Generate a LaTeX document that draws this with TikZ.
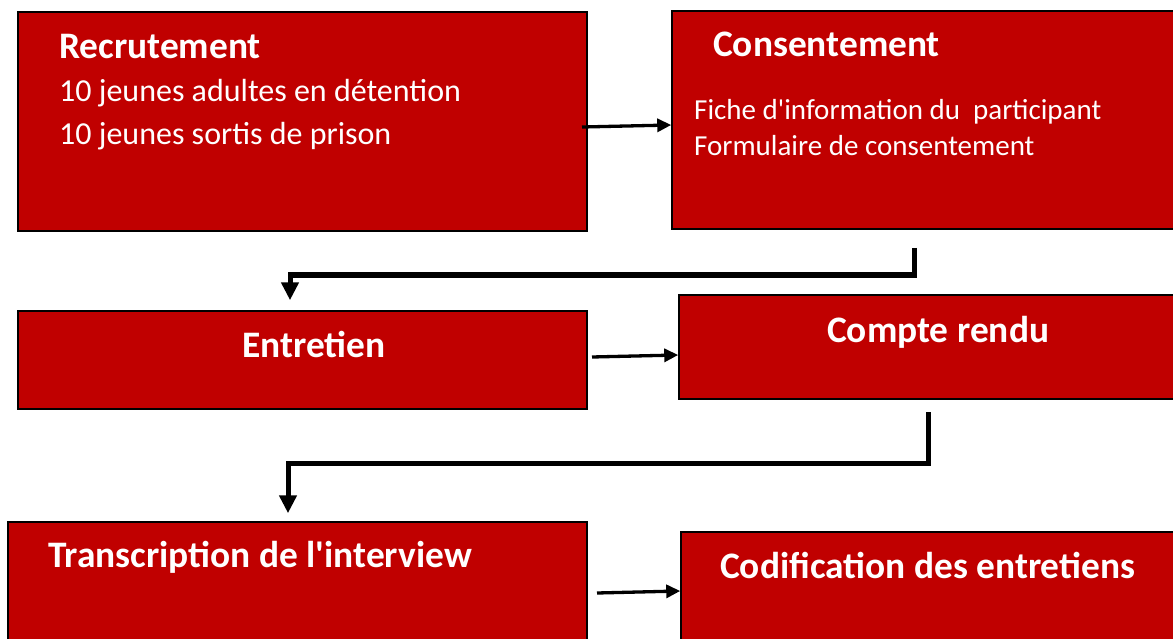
\documentclass[tikz,border=0pt]{standalone}
\usepackage{fontspec}
\setmainfont{Carlito}
\usetikzlibrary{arrows.meta}
\definecolor{boxred}{HTML}{C00000}
\tikzset{
  box/.style={draw=black, line width=1.5pt, fill=boxred, rectangle, inner sep=0pt},
  title/.style={anchor=base west, inner sep=0pt, text=white, font=\bfseries\fontsize{37.4}{41}\selectfont},
  body/.style={anchor=base west, inner sep=0pt, text=white, font=\fontsize{32}{40}\selectfont},
  small/.style={anchor=base west, inner sep=0pt, text=white, font=\fontsize{29}{36}\selectfont},
  arr/.style={draw=black, line width=3.3pt, -{Triangle[length=14pt,width=13pt]}},
  elbow/.style={draw=black, line width=5pt, -{Triangle[length=18pt,width=17pt]}}
}
\begin{document}
\begin{tikzpicture}[x=1pt,y=-1pt]
\clip (0,0) rectangle (1173,639);
\fill[white] (0,0) rectangle (1173,639);
% boxes
\node[box, minimum width=569pt, minimum height=219pt] (b1) at (302.5,121.5) {};
\node[box, minimum width=506pt, minimum height=218pt] (b2) at (925,120) {};
\node[box, minimum width=569pt, minimum height=98pt] (b3) at (302.5,360) {};
\node[box, minimum width=501pt, minimum height=104pt] (b4) at (929.5,347) {};
\node[box, minimum width=579pt, minimum height=123pt] (b5) at (297.5,583.5) {};
\node[box, minimum width=499pt, minimum height=113pt] (b6) at (930.5,588.5) {};
% texts
\node[title] (t1) at (59,59) {Recrutement};
\node[body] (t1a) at (59,102) {10 jeunes adultes en détention};
\node[body] (t1b) at (59,145) {10 jeunes sortis de prison};
\node[title] (t2) at (713,57) {Consentement};
\node[small] (t2a) at (694,120) {Fiche d\textquotesingle information du~ participant};
\node[small] (t2b) at (694,156) {Formulaire de consentement};
\node[title] (t3) at (242,357) {Entretien};
\node[title] (t4) at (827,342) {Compte rendu};
\node[title] (t5) at (48,567) {Transcription de l\textquotesingle interview};
\node[title] (t6) at (720,578) {Codification des entretiens};
% connector start points
\coordinate (s1) at (582,127);
\coordinate (s3) at (592,357);
\coordinate (s5) at (597,593);
\coordinate (c2) at (914,248);
\coordinate (c2b) at (914,275);
\coordinate (c4) at (928,412);
\coordinate (c4b) at (928,463);
% connectors
\draw[arr] (s1) -- ([yshift=-5pt]b2.west);
\draw[arr] (s3) -- ([yshift=-8pt]b4.west);
\draw[arr] (s5) -- ([yshift=-2.5pt]b6.west);
\draw[elbow, shorten >=10pt] (c2) -- (c2b) -| ([xshift=-12.5pt]b3.north);
\draw[elbow, shorten >=8pt] (c4) -- (c4b) -| ([xshift=-9.5pt]b5.north);
\end{tikzpicture}
\end{document}
